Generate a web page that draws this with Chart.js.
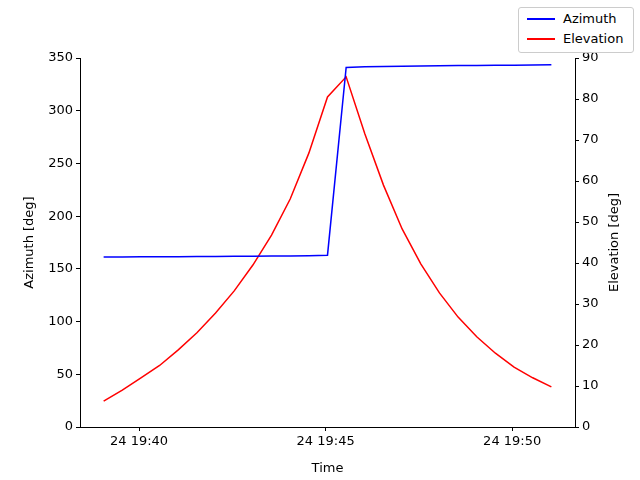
<!DOCTYPE html>
<html><head><meta charset="utf-8">
<script src="https://cdn.jsdelivr.net/npm/chart.js@4/dist/chart.umd.min.js"></script>
<style>
body{margin:0;background:#fff;font-family:"DejaVu Sans",sans-serif}
#wrap{position:relative;width:640px;height:480px}
#leg{position:absolute;left:518px;top:7px;width:114px;height:44px;border:1px solid #ccc;border-radius:3px;background:#fff;font-size:13px}
.it{position:absolute;left:8px;display:flex;align-items:center}
.ln{width:28px;height:2px;margin-right:8px}
</style></head><body>
<div id="wrap"><canvas id="c" width="640" height="480"></canvas>
<div id="leg"><div class="it" style="top:3px"><div class="ln" style="background:#0000ff"></div>Azimuth</div>
<div class="it" style="top:23px"><div class="ln" style="background:#ff0000"></div>Elevation</div></div></div>
<script>
// seconds after 19:39:00
const times=[3,33,63,93,123,153,183,213,243,273,303,333,363,393,423,453,483,513,543,573,603,633,663,693,723];
const azimuth=[161.2,161.3,161.4,161.5,161.6,161.7,161.8,161.9,162.0,162.1,162.3,162.5,163.0,341.0,341.8,342.0,342.2,342.4,342.6,342.8,343.0,343.1,343.2,343.4,343.5];
const elevation=[6.3,9.0,12.0,15.0,18.8,23.0,27.8,33.2,39.5,46.8,55.6,66.8,80.5,85.4,71.5,59.0,48.3,39.8,32.7,26.8,22.0,18.0,14.6,12.0,9.8];
const xTicks=[60,360,660];
const xLabels=["24 19:40","24 19:45","24 19:50"];
const az=times.map((t,i)=>({x:t,y:azimuth[i]}));
const el=times.map((t,i)=>({x:t,y:elevation[i]}));
const f={family:"DejaVu Sans",size:13};
const ax={grid:{drawOnChartArea:false,tickLength:4,color:'#000'},border:{color:'#000'},ticks:{color:'#000',font:f}};
const titles={id:'t',afterDraw(c){const x=c.ctx,a=c.chartArea;x.save();x.font='13px "DejaVu Sans"';x.fillStyle='#000';x.textAlign='center';x.textBaseline='middle';
[[30,'Azimuth [deg]'],[615,'Elevation [deg]']].forEach(([px,t])=>{x.save();x.translate(px,(a.top+a.bottom)/2);x.rotate(-Math.PI/2);x.fillText(t,0,0);x.restore();});x.restore();}};
new Chart(document.getElementById('c'),{type:'line',
data:{datasets:[
{label:'Azimuth',data:az,borderColor:'#0000ff',borderWidth:1.5,pointRadius:0,yAxisID:'y'},
{label:'Elevation',data:el,borderColor:'#ff0000',borderWidth:1.5,pointRadius:0,yAxisID:'y1'}]},
options:{responsive:false,animation:false,layout:{padding:{top:58,left:0,right:0,bottom:0}},
plugins:{legend:{display:false},tooltip:{enabled:false}},
scales:{
x:{type:'linear',min:-35,max:761,...ax,afterBuildTicks:s=>{s.ticks=xTicks.map(v=>({value:v}))},
 ticks:{...ax.ticks,callback:(v)=>xLabels[xTicks.indexOf(v)]},
 title:{display:true,text:'Time',font:f,color:'#000',padding:{top:0}},afterFit:s=>{s.height=53}},
y:{position:'left',min:0,max:350,...ax,ticks:{...ax.ticks,stepSize:50},afterFit:s=>{s.width=80}},
y1:{position:'right',min:0,max:90,...ax,ticks:{...ax.ticks,stepSize:10},afterFit:s=>{s.width=65}}
}},plugins:[titles]});
</script></body></html>
